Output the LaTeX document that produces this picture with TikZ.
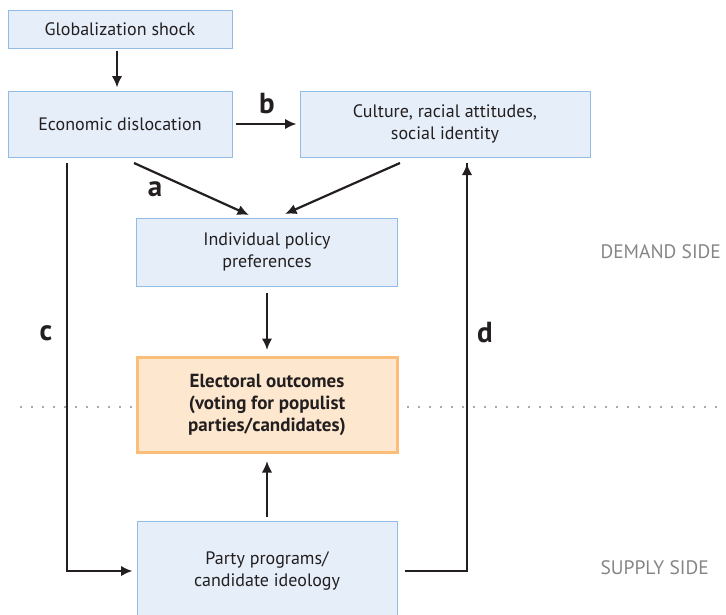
\documentclass[tikz,border=0pt]{standalone}
\usepackage{fontspec}
\setmainfont{PT Sans}
\usetikzlibrary{arrows.meta}
\definecolor{boxblue}{HTML}{E6EFF9}
\definecolor{edgeblue}{HTML}{92BCE6}
\definecolor{boxorange}{HTML}{FDE8CF}
\definecolor{edgeorange}{HTML}{FBBE78}
\definecolor{ink}{HTML}{231F20}
\definecolor{sidegray}{HTML}{858585}
\begin{document}
\begin{tikzpicture}[x=1pt,y=-1pt,
  factor/.style={draw=edgeblue,fill=boxblue,line width=1pt,align=center,inner sep=0pt,
    font=\fontsize{18}{22}\selectfont,text=ink},
  outcome/.style={draw=edgeorange,fill=boxorange,line width=3pt,align=center,inner sep=0pt,
    font=\bfseries\fontsize{19}{22}\selectfont,text=ink},
  link/.style={draw=ink,line width=2.2pt,-{Latex[length=11.5pt,width=10.5pt]}},
  tag/.style={font=\bfseries\fontsize{29}{29}\selectfont,text=ink},
  side/.style={font=\fontsize{19.5}{20}\selectfont,text=sidegray,anchor=west}]
 \useasboundingbox (0,0) rectangle (726,614);
 \clip (0,0) rectangle (726,614);
 % demand / supply divide
 \draw[sidegray!70,line width=2.2pt,dash pattern=on 2.2pt off 8.8pt] (20,407)--(135,407);
 \draw[sidegray!70,line width=2.2pt,dash pattern=on 2.2pt off 8.8pt] (407,407)--(726,407);
 % boxes
 \node[factor,minimum width=224pt,minimum height=38pt] (glob) at (120,29) {Globalization shock};
 \node[factor,minimum width=224pt,minimum height=66pt] (econ) at (120,124) {Economic dislocation};
 \node[factor,minimum width=290pt,minimum height=66pt] (cult) at (445,124) {Culture, racial attitudes,\\social identity};
 \node[factor,minimum width=261pt,minimum height=68pt] (pref) at (267,252) {Individual policy\\preferences};
 \node[outcome,minimum width=260pt,minimum height=95pt] (vote) at (267,405) {Electoral outcomes\\(voting for populist\\parties/candidates)};
 \node[factor,minimum width=260pt,minimum height=100pt] (party) at (267,571) {Party programs/\\candidate ideology};
 % side labels
 \node[side] (demand) at (597,252) {DEMAND SIDE};
 \node[side] (supply) at (597,568) {SUPPLY SIDE};
 % connectors
 \coordinate (a0) at (134,163);
 \coordinate (a1) at (249,215);
 \coordinate (e0) at (400,163);
 \coordinate (e1) at (285,214);
 \coordinate (c0) at (67,163);
 \coordinate (d0) at (467,163);
 \draw[link,shorten <=2pt,shorten >=3pt] (glob.south -| 117,0) -- (econ.north -| 117,0);
 \draw[link,shorten <=3pt,shorten >=3pt] (econ.east) -- (cult.west);
 \draw[link] (a0) -- (a1);
 \draw[link] (e0) -- (e1);
 \draw[link,shorten <=6pt,shorten >=6pt] (pref.south) -- (vote.north);
 \draw[link,shorten <=4pt,shorten >=7pt] (party.north) -- (vote.south);
 \draw[link,shorten >=4pt] (c0) |- (party.west);
 \draw[link,shorten >=6pt,shorten <=7pt] (party.east) -| (d0) -- (cult.south -| d0);
 % path labels
 \node[tag] (la) at (155,189) {a};
 \node[tag] (lb) at (267,104) {b};
 \node[tag] (lc) at (46,333) {c};
 \node[tag] (ld) at (485,333) {d};
\end{tikzpicture}
\end{document}
